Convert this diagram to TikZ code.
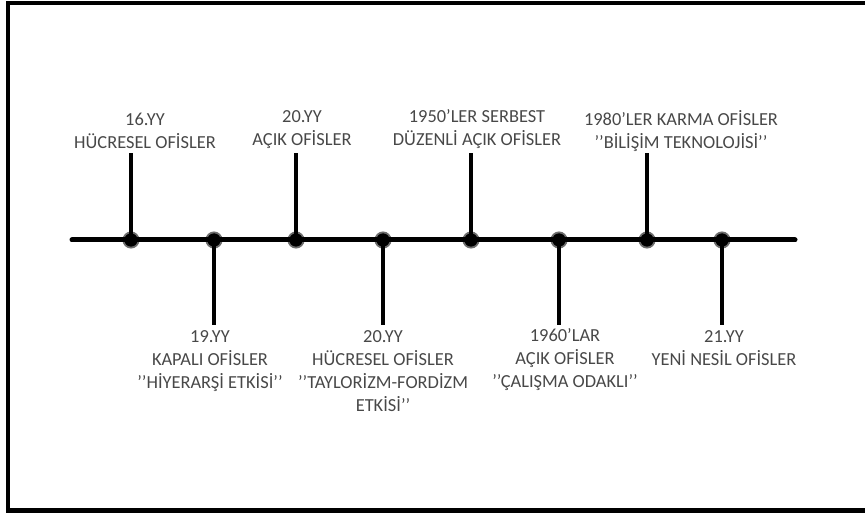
\documentclass[tikz,border=0pt]{standalone}
\usepackage{fontspec}
\setmainfont{Carlito}
\usetikzlibrary{positioning}
\definecolor{inkgray}{HTML}{484848}

\begin{document}
\begin{tikzpicture}[x=1pt, y=-1pt, >=stealth]
    % Styles
    \tikzstyle{axisline} = [line width=5pt, line cap=round]
    \tikzstyle{stem} = [line width=4pt]
    \tikzstyle{joint} = [circle, fill=black, minimum size=13pt, inner sep=0pt, draw=black, draw opacity=0.35, line width=4pt]
    \tikzstyle{period} = [align=center, text=inkgray, font=\fontsize{18.4}{23}\selectfont]
    \tikzstyle{uplabel} = [period, anchor=south, inner sep=4pt]
    \tikzstyle{downlabel} = [period, anchor=north, inner sep=5pt]

    \useasboundingbox (0,0) rectangle (865,513);
    % Frame
    \draw[line width=4.5pt] (8,3) rectangle (880,510.5);

    % Nodes
    \coordinate (axisL) at (72,240);
    \coordinate (axisR) at (795,240);
    \node[joint] (p1) at (131,240) {};
    \node[joint] (p2) at (214,240) {};
    \node[joint] (p3) at (296,240) {};
    \node[joint] (p4) at (383,240) {};
    \node[joint] (p5) at (471,240) {};
    \node[joint] (p6) at (559,240) {};
    \node[joint] (p7) at (647,240) {};
    \node[joint] (p8) at (722,240) {};
    \coordinate (t1) at (131,153);
    \coordinate (t2) at (214,325);
    \coordinate (t3) at (296,153);
    \coordinate (t4) at (383,325);
    \coordinate (t5) at (471,153);
    \coordinate (t6) at (559,325);
    \coordinate (t7) at (647,153);
    \coordinate (t8) at (722,325);

    \node[uplabel, xshift=14pt] (l1) at (t1) {16.YY\\HÜCRESEL OFİSLER};
    \node[downlabel, xshift=-4pt] (l2) at (t2) {19.YY\\KAPALI OFİSLER\\’’HİYERARŞİ ETKİSİ’’};
    \node[uplabel, xshift=6pt] (l3) at (t3) {20.YY\\AÇIK OFİSLER};
    \node[downlabel] (l4) at (t4) {20.YY\\HÜCRESEL OFİSLER\\’’TAYLORİZM-FORDİZM\\ETKİSİ’’};
    \node[uplabel, xshift=6pt] (l5) at (t5) {1950’LER SERBEST\\DÜZENLİ AÇIK OFİSLER};
    \node[downlabel, xshift=6pt, yshift=2pt] (l6) at (t6) {1960’LAR\\AÇIK OFİSLER\\’’ÇALIŞMA ODAKLI’’};
    \node[uplabel, xshift=34pt, yshift=-3pt] (l7) at (t7) {1980’LER KARMA OFİSLER\\’’BİLİŞİM TEKNOLOJİSİ’’};
    \node[downlabel, xshift=2pt] (l8) at (t8) {21.YY\\YENİ NESİL OFİSLER};

    % Paths
    \draw[axisline] (axisL) -- (axisR);
    \foreach \i in {1,...,8}
        \draw[stem] (p\i.center) -- (t\i);
    \foreach \i in {1,...,8}
        \node[joint] at (p\i) {};
\end{tikzpicture}
\end{document}
